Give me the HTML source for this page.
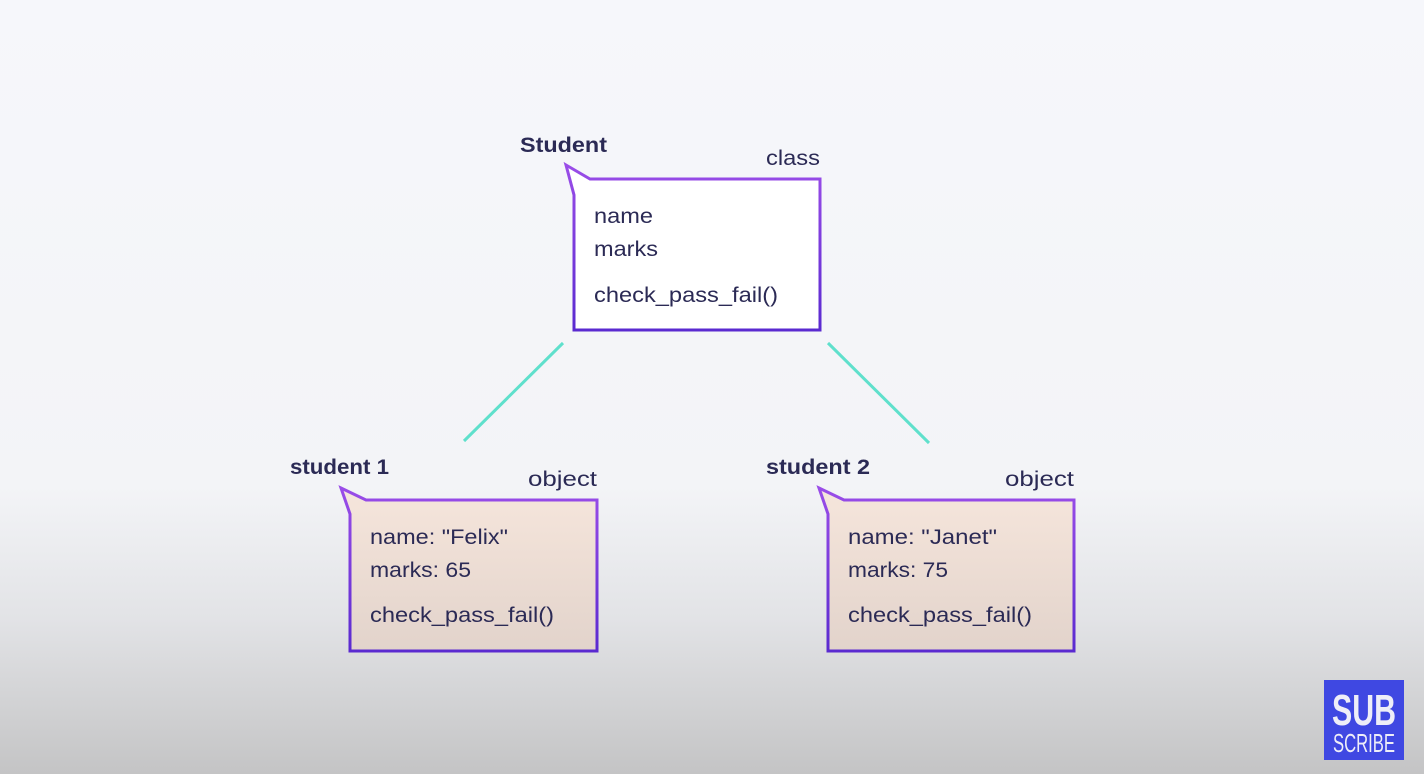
<!DOCTYPE html>
<html><head><meta charset="utf-8"><style>
html,body{margin:0;padding:0;width:1424px;height:774px;overflow:hidden}
text{font-family:"Liberation Sans",sans-serif;fill:#2b2a55}
</style></head><body>
<svg width="1424" height="774" viewBox="0 0 1424 774" xmlns="http://www.w3.org/2000/svg">
<defs>
<linearGradient id="bg" x1="0" y1="0" x2="0" y2="1">
<stop offset="0" stop-color="#f6f7fb"/><stop offset="0.63" stop-color="#f3f4f7"/>
<stop offset="0.8" stop-color="#e2e3e6"/><stop offset="1" stop-color="#c4c4c5"/>
</linearGradient>
<linearGradient id="bd" x1="0" y1="0" x2="0" y2="1">
<stop offset="0" stop-color="#9a4de8"/><stop offset="1" stop-color="#5a2ad0"/>
</linearGradient>
<linearGradient id="fill" x1="0" y1="0" x2="0" y2="1">
<stop offset="0" stop-color="#f6e6dc"/><stop offset="1" stop-color="#e2d3cb"/>
</linearGradient>
</defs>
<rect width="1424" height="774" fill="url(#bg)"/>
<line x1="563" y1="343" x2="464" y2="441" stroke="#5fe0cc" stroke-width="3"/>
<line x1="828" y1="343" x2="929" y2="443" stroke="#5fe0cc" stroke-width="3"/>

<g font-size="21" lengthAdjust="spacingAndGlyphs">
<!-- class -->
<path d="M566,165 L590,179 L820,179 L820,330 L574,330 L574,195 Z" fill="#fff" stroke="url(#bd)" stroke-width="3"/>
<text x="520" y="152" font-weight="bold" textLength="87" lengthAdjust="spacingAndGlyphs">Student</text>
<text x="766" y="165" textLength="54" lengthAdjust="spacingAndGlyphs">class</text>
<text x="594" y="223" textLength="59" lengthAdjust="spacingAndGlyphs">name</text>
<text x="594" y="256" textLength="64" lengthAdjust="spacingAndGlyphs">marks</text>
<text x="594" y="302" textLength="184" lengthAdjust="spacingAndGlyphs">check_pass_fail()</text>

<!-- obj1 -->
<path d="M341,488 L366,500 L597,500 L597,651 L350,651 L350,514 Z" fill="url(#fill)" stroke="url(#bd)" stroke-width="3"/>
<text x="290" y="474" font-weight="bold" textLength="99" lengthAdjust="spacingAndGlyphs">student 1</text>
<text x="528" y="486" textLength="69" lengthAdjust="spacingAndGlyphs">object</text>
<text x="370" y="544" textLength="138" lengthAdjust="spacingAndGlyphs">name: "Felix"</text>
<text x="370" y="577" textLength="101" lengthAdjust="spacingAndGlyphs">marks: 65</text>
<text x="370" y="622" textLength="184" lengthAdjust="spacingAndGlyphs">check_pass_fail()</text>

<!-- obj2 -->
<path d="M819,488 L844,500 L1074,500 L1074,651 L828,651 L828,514 Z" fill="url(#fill)" stroke="url(#bd)" stroke-width="3"/>
<text x="766" y="474" font-weight="bold" textLength="104" lengthAdjust="spacingAndGlyphs">student 2</text>
<text x="1005" y="486" textLength="69" lengthAdjust="spacingAndGlyphs">object</text>
<text x="848" y="544" textLength="149" lengthAdjust="spacingAndGlyphs">name: "Janet"</text>
<text x="848" y="577" textLength="100" lengthAdjust="spacingAndGlyphs">marks: 75</text>
<text x="848" y="622" textLength="184" lengthAdjust="spacingAndGlyphs">check_pass_fail()</text>
</g>

<!-- subscribe -->
<rect x="1324" y="680" width="80" height="80" fill="#3f48e2"/>
<text x="1364" y="725" font-size="44" font-weight="bold" text-anchor="middle" style="fill:#eeeef8" textLength="64" lengthAdjust="spacingAndGlyphs">SUB</text>
<text x="1364" y="752" font-size="26" text-anchor="middle" style="fill:#eeeef8" textLength="62" lengthAdjust="spacingAndGlyphs">SCRIBE</text>
</svg>
</body></html>
